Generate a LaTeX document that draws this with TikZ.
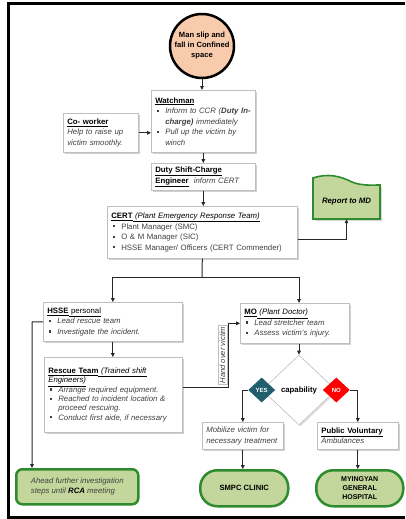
\documentclass[tikz,border=0pt]{standalone}
\usepackage{fontspec}
\setmainfont{Liberation Sans}
\usetikzlibrary{arrows.meta,shapes.geometric,shadows,calc}
\definecolor{peach}{HTML}{F8CBAD}
\definecolor{lgreen}{HTML}{C3D69B}
\definecolor{dgreen}{HTML}{2E8B2E}
\definecolor{yescol}{HTML}{215E6E}
\definecolor{nocol}{HTML}{FF0000}
\definecolor{txt}{HTML}{404040}
\definecolor{bord}{HTML}{BFBFBF}
\newcommand{\bx}{\makebox[10pt][l]{\hspace{1.5pt}\rule[1.6pt]{2.3pt}{2.3pt}}}
\newcommand{\cont}{\hspace*{10pt}}
\newcommand{\hd}[1]{{\color{black}\underline{\textbf{#1}}}}
\begin{document}
\begin{tikzpicture}[x=1pt,y=-1pt,
  box/.style={draw=bord, fill=white, line width=0.6pt, anchor=north west,
    inner xsep=4pt, inner ysep=2pt, align=left, text=txt,
    font=\fontsize{7.8}{10.5}\selectfont,
    drop shadow={shadow xshift=1.5pt, shadow yshift=-1.5pt, fill=black, opacity=0.18}},
  term/.style={draw=dgreen, fill=lgreen, line width=2.5pt, anchor=north west,
    inner sep=0pt, align=center, font=\fontsize{7.8}{10}\selectfont},
  conn/.style={draw=black!85, line width=1pt},
  arr/.style={conn, -{Triangle[length=4pt,width=3.6pt]}},
  smalld/.style={diamond, inner sep=0pt, minimum width=27pt, minimum height=25pt,
    text=white, font=\fontsize{6}{6}\selectfont\bfseries}
]
\useasboundingbox (0,0) rectangle (405,519);
% frame
\draw[line width=3pt] (405,4) -- (8,4) -- (8,517) -- (405,517);

% start circle
\node[circle, draw=black, fill=peach, line width=2.5pt, minimum size=64pt, inner sep=0pt,
  align=center, font=\fontsize{7.6}{10}\selectfont\bfseries] (circ) at (202,46)
  {Man slip and\\fall in Confined\\space};

\node[box, text width=67pt, minimum height=39pt] (cw) at (63,113)
  {\hd{Co- worker}\\ \textit{Help to raise up}\\ \textit{victim smoothly.}};

\node[box, text width=96pt, minimum height=62pt] (wm) at (151,90)
  {\hd{Watchman}\\
   \bx\textit{Inform to CCR (\textbf{Duty In-}}\\
   \cont\textit{\textbf{charge)} immediately}\\
   \bx\textit{Pull up the victim by}\\
   \cont\textit{winch}};

\node[box, text width=96pt, minimum height=27pt] (duty) at (151,163)
  {\hd{Duty Shift-Charge}\\ \hd{Engineer}\ \ \textit{inform CERT}};

\node[box, text width=182pt, minimum height=52pt] (cert) at (107,206)
  {\hd{CERT}{\color{black}\underline{\textit{ (Plant Emergency Response Team)}}}\\
   \bx Plant Manager (SMC)\\
   \bx O \& M Manager (SIC)\\
   \bx HSSE Manager/ Officers (CERT Commender)};

% report to MD
\fill[black, opacity=0.15] (315,180) .. controls (330,175) and (342,178) .. (354,184)
  .. controls (364,188) and (374,187) .. (382,187) -- (382,221) -- (315,221) -- cycle;
\filldraw[fill=lgreen, draw=dgreen, line width=1.6pt] (313,219) -- (313,178)
  .. controls (328,173) and (340,176) .. (352,182)
  .. controls (362,186) and (372,185) .. (380,185) -- (380,219) -- cycle;
\node[inner sep=0pt, minimum width=67pt, minimum height=34pt,
  font=\fontsize{7.8}{9}\selectfont\bfseries\itshape] (rep) at (346.5,202) {Report to MD};

\node[box, text width=131pt, minimum height=39pt] (hsse) at (43,302)
  {\hd{HSSE}{\color{black}\underline{ personal}}\\
   \bx\textit{Lead rescue team}\\
   \bx\textit{Investigate the incident.}};

\node[box, text width=101pt, minimum height=40pt] (mo) at (240,303)
  {\hd{MO}{\color{black}\underline{\textit{ (Plant Doctor)}}}\\
   \bx\textit{Lead stretcher team}\\
   \bx\textit{Assess victim's injury.}};

\node[box, text width=130pt, minimum height=75pt,
  font=\fontsize{7.8}{9.3}\selectfont] (resc) at (44,357)
  {\hd{Rescue Team}{\color{black}\underline{\textit{ (Trained shift}}}\\
   {\color{black}\underline{\textit{Engineers)}}}\\
   \bx\textit{Arrange required equipment.}\\
   \bx\textit{Reached to incident location \&}\\
   \cont\textit{proceed rescuing.}\\
   \bx\textit{Conduct first aide, if necessary}};

% decision
\node[diamond, draw=bord, fill=white, line width=0.6pt, minimum width=74pt, minimum height=70pt,
  inner sep=0pt, font=\fontsize{7.8}{9}\selectfont\bfseries,
  drop shadow={shadow xshift=1.5pt, shadow yshift=-1.5pt, fill=black, opacity=0.12}]
  (dia) at (299,390) {capability};
\node[smalld, fill=yescol] (yes) at (dia.west) {YES};
\node[smalld, fill=nocol] (no) at (dia.east) {NO};

\node[box, text width=73pt, minimum height=27pt] (mob) at (202,422)
  {\textit{Mobilize victim for}\\ \textit{necessary treatment}};
\node[box, text width=73pt, minimum height=27pt] (pub) at (317,422)
  {\hd{Public Voluntary}\\ \textit{Ambulances}};

% terminals
\node[term, rounded corners=6pt, minimum width=122pt, minimum height=35pt,
  text=txt, font=\fontsize{7.8}{10}\selectfont\itshape, align=left] (ahead) at (15,468)
  {Ahead further investigation\\steps until {\color{black}\textbf{RCA}} meeting};
\node[term, rounded corners=17pt, minimum width=88pt, minimum height=36pt,
  font=\fontsize{7.6}{9}\selectfont\bfseries] (smpc) at (199,469) {SMPC CLINIC};
\node[term, rounded corners=17pt, minimum width=87pt, minimum height=36pt,
  font=\fontsize{7}{9}\selectfont\bfseries] (hosp) at (315,469) {MYINGYAN\\GENERAL\\HOSPITAL};

% connectors
\coordinate (c239) at (0,239);
\coordinate (br) at (202,277);
\coordinate (hv) at (228,387);
\coordinate (lx) at (32,322);

\draw[arr] (circ.south) -- (circ.south |- wm.north);
\draw[arr] (cw.east) -- (cw.east -| wm.west);
\draw[arr] (wm.south -| duty.north) -- (duty.north);
\draw[arr] (duty.south) -- (duty.south |- cert.north);
\draw[arr] (cert.east |- c239) -| (rep.south);
\draw[conn] (cert.south) -- (br);
\draw[arr] (br) -| (hsse.north);
\draw[arr] (br) -| (mo.north -| dia.north);
\draw[arr] (hsse.south) -- (hsse.south |- resc.north);
\draw[arr] (mo.south -| dia.north) -- (dia.north);
\draw[arr] (resc.east |- hv) -- (hv) |- (mo.west);
\node[draw=bord, line width=0.5pt, rotate=90, inner xsep=1pt, inner ysep=1.5pt, text=txt,
  font=\fontsize{7.6}{9}\selectfont\itshape] (hvl) at (222.5,355) {Hand over victim};
\draw[arr] (hsse.west) -- (lx) -- (lx |- ahead.north);
\draw[arr] (yes.west) -| (mob.north);
\draw[arr] (no.east) -| (pub.north);
\draw[arr] (mob.south) -- (mob.south |- smpc.north);
\draw[arr] (pub.south) -- (pub.south |- hosp.north);
\end{tikzpicture}
\end{document}
